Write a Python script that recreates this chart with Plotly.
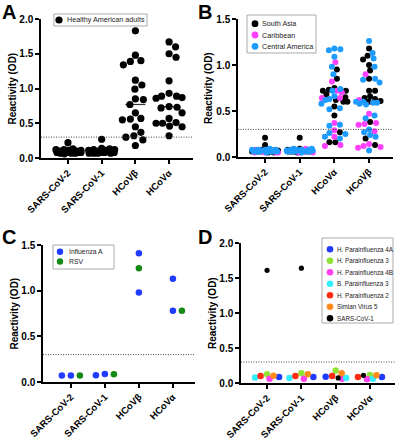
import plotly.graph_objects as go

W, H = 405, 440
FONT = "Arial, Liberation Sans, sans-serif"

# ---------------- data ----------------
# Panel A : healthy American adults
cats_A = ["SARS-CoV-2", "SARS-CoV-1", "HCoVβ", "HCoVα"]
A_name = "Healthy American adults"
A_sars2 = [0.22, 0.13, 0.12, 0.12, 0.11, 0.11, 0.10, 0.10, 0.10, 0.09,
           0.09, 0.09, 0.08, 0.08, 0.08, 0.08, 0.07, 0.07, 0.07, 0.06]
A_sars1 = [0.27, 0.14, 0.13, 0.12, 0.12, 0.11, 0.11, 0.10, 0.10, 0.10,
           0.09, 0.09, 0.09, 0.08, 0.08, 0.08, 0.07, 0.07, 0.07, 0.07]
A_hcovb = [1.83, 1.48, 1.40, 1.39, 1.34, 1.12, 1.05, 0.99, 0.85, 0.84,
           0.77, 0.65, 0.57, 0.56, 0.55, 0.45, 0.37, 0.32, 0.30, 0.26, 0.18]
A_hcova = [1.67, 1.60, 1.50, 1.45, 1.11, 0.93, 0.89, 0.89, 0.87, 0.86,
           0.74, 0.73, 0.72, 0.65, 0.57, 0.51, 0.50, 0.50, 0.46, 0.45, 0.32]

# Panel B : three regions
cats_B = ["SARS-CoV-2", "SARS-CoV-1", "HCoVα", "HCoVβ"]
B_groups = ["South Asia", "Caribbean", "Central America"]
B_sa_sars2 = [0.21, 0.13, 0.08, 0.07, 0.07, 0.07, 0.07, 0.06, 0.06, 0.06, 0.06, 0.06, 0.06, 0.06, 0.05, 0.05]
B_sa_sars1 = [0.21, 0.09, 0.08, 0.07, 0.07, 0.07, 0.07, 0.06, 0.06, 0.06, 0.06, 0.06, 0.06, 0.06, 0.06, 0.05]
B_sa_hcova = [0.95, 0.85, 0.75, 0.73, 0.72, 0.72, 0.68, 0.65, 0.62, 0.60, 0.60, 0.55, 0.45, 0.27, 0.16, 0.16]
B_sa_hcovb = [1.18, 1.10, 1.06, 1.00, 0.94, 0.85, 0.72, 0.72, 0.66, 0.64, 0.63, 0.61, 0.60, 0.38, 0.20, 0.13]
B_ca_sars2 = [0.08, 0.07, 0.07, 0.06, 0.06, 0.06, 0.06, 0.05, 0.05, 0.05, 0.05]
B_ca_sars1 = [0.09, 0.08, 0.07, 0.07, 0.06, 0.06, 0.06, 0.06, 0.05, 0.05, 0.05]
B_ca_hcova = [1.03, 0.82, 0.72, 0.70, 0.64, 0.64, 0.37, 0.29, 0.22, 0.13, 0.12]
B_ca_hcovb = [0.90, 0.62, 0.47, 0.37, 0.36, 0.35, 0.28, 0.14, 0.12, 0.11, 0.10]
B_cam_sars2 = [0.09, 0.08, 0.08, 0.08, 0.08, 0.07, 0.07, 0.07, 0.07, 0.07,
               0.07, 0.07, 0.06, 0.06, 0.06, 0.06, 0.06, 0.06, 0.06, 0.05]
B_cam_sars1 = [0.09, 0.09, 0.08, 0.08, 0.08, 0.08, 0.07, 0.07, 0.07, 0.07,
               0.07, 0.07, 0.07, 0.06, 0.06, 0.06, 0.06, 0.06, 0.06, 0.05]
B_cam_hcova = [1.18, 1.17, 1.16, 1.09, 0.98, 0.90, 0.74, 0.72, 0.66, 0.63,
               0.62, 0.58, 0.53, 0.52, 0.35, 0.34, 0.26, 0.25, 0.22, 0.20]
B_cam_hcovb = [1.26, 1.13, 1.07, 0.98, 0.85, 0.84, 0.81, 0.60, 0.60, 0.59,
               0.59, 0.58, 0.57, 0.45, 0.42, 0.30, 0.27, 0.24, 0.22, 0.07]

# Panel C : influenza A (2 donors) and RSV (1 donor)
cats_C = ["SARS-CoV-2", "SARS-CoV-1", "HCoVβ", "HCoVα"]
C_names = ["Influenza A", "RSV"]
C_flu_sars2 = [0.072, 0.070]
C_flu_sars1 = [0.073, 0.087]
C_flu_hcovb = [1.41, 0.98]
C_flu_hcova = [1.13, 0.78]
C_rsv = [0.071, 0.084, 1.245, 0.78]   # one value per category

# Panel D : paramyxovirus-positive sera (one value per category)
cats_D = ["SARS-CoV-2", "SARS-CoV-1", "HCoVβ", "HCoVα"]
D_names = ["H. Parainfluenza 4A", "H. Parainfluenza 3", "H. Parainfluenza 4B",
           "B. Parainfluenza 3", "H. Parainfluenza 2", "Simian Virus 5", "SARS-CoV-1"]
D_hpiv4a = [0.086, 0.086, 0.090, 0.086]
D_hpiv3 = [0.124, 0.140, 0.180, 0.115]
D_hpiv4b = [0.062, 0.062, 0.060, 0.053]
D_bpiv3 = [0.077, 0.072, 0.072, 0.062]
D_hpiv2 = [0.100, 0.100, 0.100, 0.086]
D_sv5 = [0.105, 0.124, 0.140, 0.110]
D_sars1 = [1.61, 1.64, 0.072, 0.110]

THRESHOLD = 0.3

# ---------------- styles ----------------
COL_A = "#000000"
COL_B = ["#000000", "#FF40FF", "#1E9BFF"]
COL_C = ["#1F3BFF", "#148A14"]
COL_D = ["#1F3BFF", "#8FE335", "#FF40F0", "#33EEFF", "#FF2A12", "#FF8A1A", "#000000"]

# panel geometry in pixels
P = {
    "A": dict(ax="", left=41, right=193, top=19, bottom=158, xr=[-0.80, 3.71], yr=[0, 2]),
    "B": dict(ax="2", left=238, right=393, top=19, bottom=157, xr=[-0.78, 3.69], yr=[0, 1.5]),
    "C": dict(ax="3", left=43, right=195, top=245, bottom=382, xr=[-0.82, 3.65], yr=[0, 1.5]),
    "D": dict(ax="4", left=241, right=395, top=243, bottom=383, xr=[-0.76, 3.73], yr=[0, 2]),
}
for p in P.values():
    p["kx"] = (p["right"] - p["left"]) / (p["xr"][1] - p["xr"][0])
    p["ky"] = (p["bottom"] - p["top"]) / (p["yr"][1] - p["yr"][0])


def swarm(values, ky, diam, maxhalf, step=0.5):
    """Beeswarm offsets (px) for values, computed from their pixel y positions."""
    n = len(values)
    order = sorted(range(n), key=lambda i: -values[i])
    cands = []
    c = 0.0
    while c <= maxhalf + 1e-9:
        cands.append(c)
        c += step
    cands = sorted(set([v for c in cands for v in (c, -c)]), key=lambda v: (abs(v), -v))
    placed = []
    offs = [0.0] * n
    for i in order:
        y = values[i] * ky
        best = None
        for c in cands:
            if all((c - px) ** 2 + (y - py) ** 2 >= diam ** 2 for px, py in placed):
                best = c
                break
        if best is None:
            best = max(cands, key=lambda c: (min((c - px) ** 2 + (y - py) ** 2 for px, py in placed), -abs(c)))
        placed.append((best, y))
        offs[i] = best
    return offs


fig = go.Figure()


def add_column_group(panel, cat_index, series_lists, colors, names, sizes, diam, maxhalf):
    """series_lists: list of value lists (one per series) for one category."""
    p = P[panel]
    allv, owner = [], []
    for s, vals in enumerate(series_lists):
        for v in vals:
            allv.append(v)
            owner.append(s)
    offs = swarm(allv, p["ky"], diam, maxhalf)
    for s, vals in enumerate(series_lists):
        xs = [cat_index + offs[k] / p["kx"] for k in range(len(allv)) if owner[k] == s]
        ys = [allv[k] for k in range(len(allv)) if owner[k] == s]
        if not xs:
            continue
        fig.add_trace(go.Scatter(
            x=xs, y=ys, mode="markers", name=names[s], showlegend=False,
            cliponaxis=False, xaxis="x" + p["ax"], yaxis="y" + p["ax"],
            marker=dict(color=colors[s], size=sizes[s], line=dict(width=0)),
            hoverinfo="skip"))


def add_median(panel, cat_index, values, half_px, dash):
    p = P[panel]
    s = sorted(values)
    n = len(s)
    med = s[n // 2] if n % 2 else 0.5 * (s[n // 2 - 1] + s[n // 2])
    hw = half_px / p["kx"]
    fig.add_trace(go.Scatter(
        x=[cat_index - hw, cat_index + hw], y=[med, med], mode="lines", showlegend=False,
        xaxis="x" + p["ax"], yaxis="y" + p["ax"], cliponaxis=False, hoverinfo="skip",
        line=dict(color="#333333", width=1.2, dash=dash)))


# Panel A
A_cols = [A_sars2, A_sars1, A_hcovb, A_hcova]
for i, vals in enumerate(A_cols):
    add_median("A", i, vals, 10, "solid")
for i, vals in enumerate(A_cols):
    add_column_group("A", i, [vals], [COL_A], [A_name], [7.2], 7.8, 13)

# Panel B
B_by_cat = [
    [B_sa_sars2, B_ca_sars2, B_cam_sars2],
    [B_sa_sars1, B_ca_sars1, B_cam_sars1],
    [B_sa_hcova, B_ca_hcova, B_cam_hcova],
    [B_sa_hcovb, B_ca_hcovb, B_cam_hcovb],
]
for i, groups in enumerate(B_by_cat):
    add_median("B", i, [v for g in groups for v in g], 11, "3px,2px")
for i, groups in enumerate(B_by_cat):
    add_column_group("B", i, groups, COL_B, B_groups, [6, 6, 6], 5.6, 13)

# Panel C
C_flu = [C_flu_sars2, C_flu_sars1, C_flu_hcovb, C_flu_hcova]
for i in range(len(cats_C)):
    add_column_group("C", i, [C_flu[i], [C_rsv[i]]], COL_C, C_names, [6.5, 6.5], 9, 12)

# Panel D
D_series = [D_hpiv4a, D_hpiv3, D_hpiv4b, D_bpiv3, D_hpiv2, D_sv5, D_sars1]
D_sizes = [6.5, 6.5, 6.5, 6.5, 6.5, 6.5, 5.2]
for i in range(len(cats_D)):
    add_column_group("D", i, [[s[i]] for s in D_series], COL_D, D_names, D_sizes, 6.5, 12)

# ---------------- axes ----------------
xtickfont = dict(family=FONT, size=9.5, color="#000000", weight="bold")
ytickfont = dict(family=FONT, size=10, color="#000000", weight="bold")
layout_axes = {}
cats = {"A": cats_A, "B": cats_B, "C": cats_C, "D": cats_D}
shapes, annotations = [], []
for key, p in P.items():
    xname = "xaxis" + p["ax"]
    yname = "yaxis" + p["ax"]
    layout_axes[xname] = dict(
        domain=[p["left"] / W, p["right"] / W], range=p["xr"], anchor="y" + p["ax"],
        tickvals=list(range(4)), ticktext=cats[key], tickangle=-45, tickfont=xtickfont,
        showline=True, linecolor="#000000", linewidth=1.5, ticks="outside", ticklen=4,
        tickwidth=1.5, tickcolor="#000000", showgrid=False, zeroline=False, fixedrange=True,
        automargin=False)
    layout_axes[yname] = dict(
        domain=[1 - p["bottom"] / H, 1 - p["top"] / H], range=p["yr"], anchor="x" + p["ax"],
        tick0=0, dtick=0.5, tickformat=".1f", tickfont=ytickfont,
        showline=True, linecolor="#000000", linewidth=1.5, ticks="outside", ticklen=4,
        tickwidth=1.5, tickcolor="#000000", showgrid=False, zeroline=False, fixedrange=True,
        automargin=False)
    # threshold line
    shapes.append(dict(type="line", xref="x" + p["ax"] + " domain", yref="y" + p["ax"],
                       x0=0, x1=1, y0=THRESHOLD, y1=THRESHOLD,
                       line=dict(color="#444444", width=1, dash="1px,1.5px")))
    # y title
    annotations.append(dict(text="Reactivity (OD)", xref="paper", yref="paper",
                            x=(p["left"] - 29) / W, y=1 - (p["top"] + p["bottom"]) / 2 / H,
                            textangle=-90, showarrow=False, xanchor="center", yanchor="middle",
                            font=dict(family=FONT, size=10, color="#000000", weight="bold")))

# panel letters
for letter, (lx, ly) in {"A": (9, 12), "B": (205, 12), "C": (9, 237), "D": (205, 237)}.items():
    annotations.append(dict(text=letter, xref="paper", yref="paper", x=lx / W, y=1 - ly / H,
                            xanchor="center", yanchor="middle", showarrow=False,
                            font=dict(family=FONT, size=20, color="#000000", weight="bold")))


# ---------------- legends (box + symbols + labels) ----------------
def legend(box, cx, tx, ys, names, colors, fsize=7, r=3.4):
    x0, y0, x1, y1 = box
    shapes.append(dict(type="rect", xref="paper", yref="paper",
                       x0=x0 / W, x1=x1 / W, y0=1 - y1 / H, y1=1 - y0 / H,
                       line=dict(color="#AAAAAA", width=1), fillcolor="rgba(255,255,255,0.9)"))
    for yy, nm, col in zip(ys, names, colors):
        shapes.append(dict(type="circle", xref="paper", yref="paper",
                           xsizemode="pixel", ysizemode="pixel",
                           xanchor=cx / W, yanchor=1 - yy / H, x0=-r, x1=r, y0=-r, y1=r,
                           fillcolor=col, line=dict(width=0)))
        annotations.append(dict(text=nm, xref="paper", yref="paper", x=tx / W, y=1 - yy / H,
                                xanchor="left", yanchor="middle", showarrow=False,
                                font=dict(family=FONT, size=fsize, color="#222222")))


legend((54, 14, 147, 26), 59, 65, [20], [A_name], [COL_A], fsize=7.2, r=3.6)
legend((247, 15, 316, 53), 255, 260, [23.7, 35.0, 46.3], B_groups, COL_B, fsize=7.2)
legend((53, 245, 114, 269), 60, 67, [251.7, 261.5], C_names, COL_C, fsize=6.8, r=3.2)
legend((322, 238, 393, 323), 330, 335, [249.3 + 11.5 * i for i in range(7)], D_names, COL_D,
       fsize=6.3, r=3.3)

fig.update_layout(
    width=W, height=H, margin=dict(l=0, r=0, t=0, b=0, pad=0, autoexpand=False),
    paper_bgcolor="#FFFFFF", plot_bgcolor="rgba(0,0,0,0)",
    showlegend=False, shapes=shapes, annotations=annotations,
    font=dict(family=FONT), **layout_axes)

# the page's default body margin would shift the 405x440 figure; remove it
fig.write_html("out.html", config={"displayModeBar": False},
               post_script="document.body.style.margin='0';document.body.style.overflow='hidden';")
